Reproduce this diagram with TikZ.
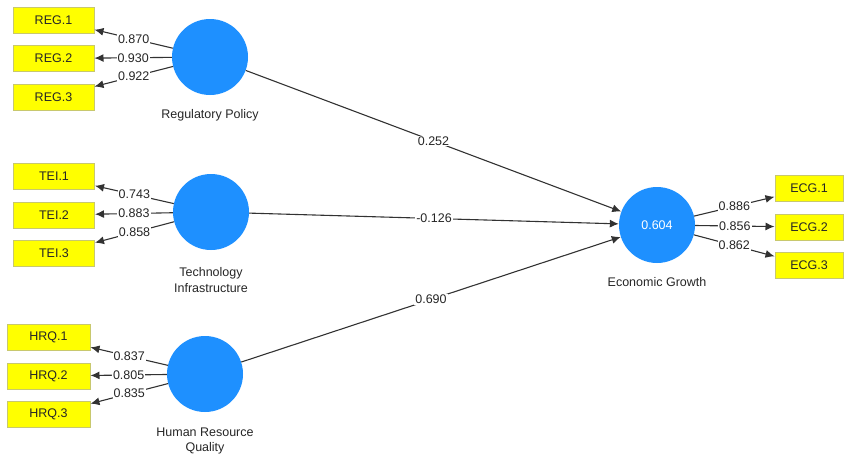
\documentclass[tikz,border=0pt]{standalone}
\usepackage{fontspec}
\setmainfont{Liberation Sans}
\usetikzlibrary{positioning,arrows.meta}
\definecolor{lvblue}{RGB}{30,144,255}
\definecolor{indyellow}{RGB}{255,255,0}
\definecolor{indborder}{RGB}{200,200,110}
\definecolor{pathgray}{RGB}{50,50,50}

\begin{document}
\begin{tikzpicture}[x=1pt,y=-1pt,>={Latex[length=9pt,width=8pt]},
	every node/.style={font=\fontsize{12.5}{15.5}\selectfont,text=black!85},
	latent/.style={circle,fill=lvblue,minimum size=76pt,inner sep=0pt},
	indicator/.style={rectangle,draw=indborder,line width=1pt,fill=indyellow,minimum width=81pt,minimum height=26pt,inner sep=0pt},
	weight/.style={fill=white,inner sep=1pt},
	link/.style={->,draw=pathgray,line width=1.1pt},
	node distance=11.5pt]
		\useasboundingbox (0,0) rectangle (845,455);
		% create the nodes
		\node (reg) [latent] at (210,57) {};
		\node (tei) [latent] at (211,212) {};
		\node (hrq) [latent] at (205,374) {};
		\node (ecg) [latent] at (657,225) {\textcolor{white}{0.604}};
		
		\node (reglabel) at (210,115) {Regulatory Policy};
		\node (teilabel) [align=center] at (211,280) {Technology\\Infrastructure};
		\node (hrqlabel) [align=center] at (205,441) {Human Resource\\Quality};
		\node (ecglabel) at (657,282) {Economic Growth};
		
		\node (reg1) [indicator] at (53.5,20) {REG.1};
		\node (reg2) [indicator, below =of reg1] {REG.2};
		\node (reg3) [indicator, below =of reg2] {REG.3};
		\node (tei1) [indicator] at (54,176.5) {TEI.1};
		\node (tei2) [indicator, below =of tei1] {TEI.2};
		\node (tei3) [indicator, below =of tei2] {TEI.3};
		\node (hrq1) [indicator, minimum width=83pt] at (48.5,337.5) {HRQ.1};
		\node (hrq2) [indicator, minimum width=83pt, below =of hrq1] {HRQ.2};
		\node (hrq3) [indicator, minimum width=83pt, below =of hrq2] {HRQ.3};
		\node (ecg1) [indicator, minimum width=68pt] at (809,188.5) {ECG.1};
		\node (ecg2) [indicator, minimum width=68pt, below =of ecg1] {ECG.2};
		\node (ecg3) [indicator, minimum width=68pt, below =of ecg2] {ECG.3};
		
		% connect the nodes
		\draw[link] (reg) -- node[weight] {0.870} (reg1);
		\draw[link] (reg) -- node[weight] {0.930} (reg2);
		\draw[link] (reg) -- node[weight] {0.922} (reg3);
		\draw[link] (tei) -- node[weight] {0.743} (tei1);
		\draw[link] (tei) -- node[weight] {0.883} (tei2);
		\draw[link] (tei) -- node[weight] {0.858} (tei3);
		\draw[link] (hrq) -- node[weight] {0.837} (hrq1);
		\draw[link] (hrq) -- node[weight] {0.805} (hrq2);
		\draw[link] (hrq) -- node[weight] {0.835} (hrq3);
		\draw[link] (ecg) -- node[weight] {0.886} (ecg1);
		\draw[link] (ecg) -- node[weight] {0.856} (ecg2);
		\draw[link] (ecg) -- node[weight] {0.862} (ecg3);
		
		\draw[link] (reg) -- node[weight] {0.252} (ecg);
		\draw[link] (tei) -- node[weight] {-0.126} (ecg);
		\draw[link] (hrq) -- node[weight] {0.690} (ecg);
		
	\end{tikzpicture}
\end{document}
